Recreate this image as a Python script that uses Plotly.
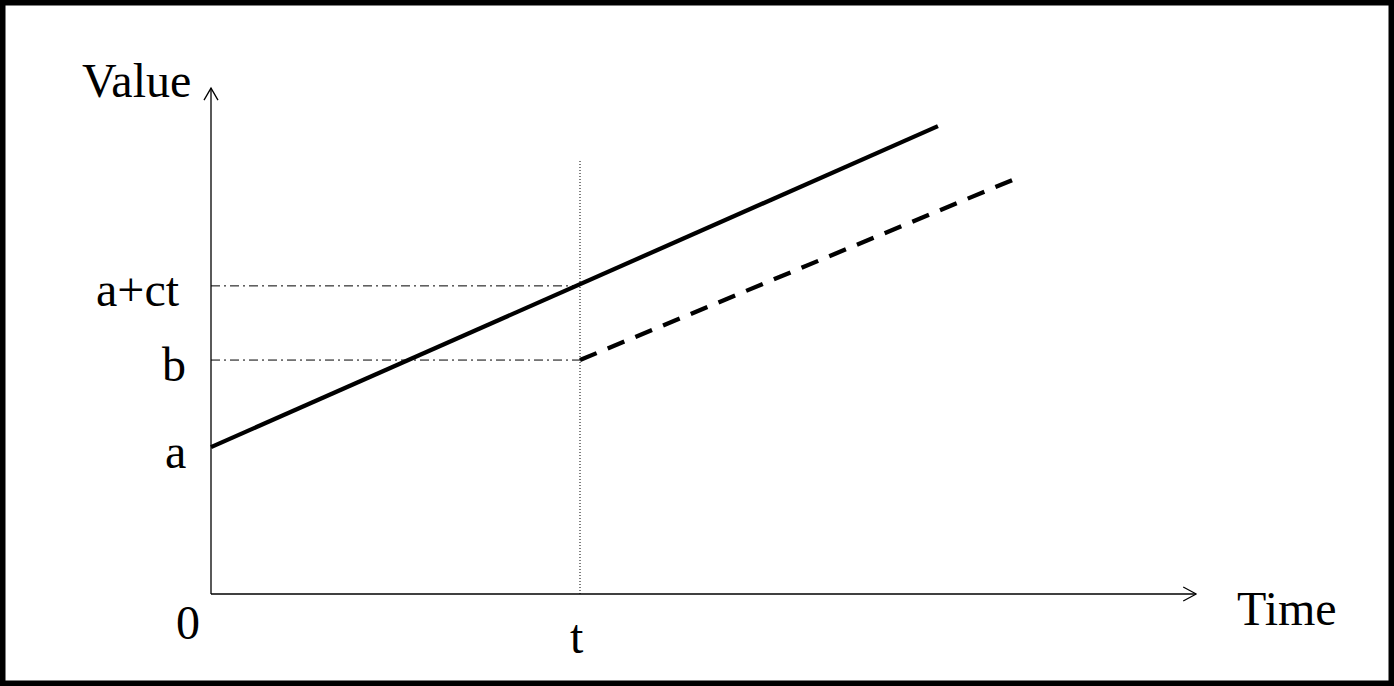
import plotly.graph_objects as go

# ---- data (conceptual units) ----
t_val = 10.0
a_val = 3.98
b_val = 6.34
act_val = 8.35

solid_x = [0.0, 19.7]
solid_y = [3.98, 12.68]

dashed_x = [10.0, 21.84]
dashed_y = [6.34, 11.27]

x_axis_end = 26.7
y_axis_end = 13.71
t_line_top = 11.76

y_tick_vals = [act_val, b_val, a_val]
y_tick_text = ["a+ct", "b", "a"]
y_tick_xshift = [-29, -23, -23]

# ---- layout geometry ----
W, H = 1394, 686
PX = 36.9          # pixels per unit
OX, OY = 211, 594  # origin pixel
x_range = [-OX / PX, (W - OX) / PX]
y_range = [-(H - OY) / PX, OY / PX]

FONT = "Liberation Serif, Times New Roman, serif"
FS = 48

fig = go.Figure()

# axes
fig.add_trace(go.Scatter(x=[0, x_axis_end], y=[0, 0], mode="lines",
                         line=dict(color="black", width=1.3), hoverinfo="skip"))
fig.add_trace(go.Scatter(x=[0, 0], y=[0, y_axis_end], mode="lines",
                         line=dict(color="black", width=1.3), hoverinfo="skip"))
# arrowheads (open V)
al, ah = 13 / PX, 7 / PX
fig.add_trace(go.Scatter(x=[x_axis_end - al, x_axis_end, x_axis_end - al],
                         y=[ah, 0, -ah], mode="lines",
                         line=dict(color="black", width=1.3), hoverinfo="skip"))
al2 = 12 / PX
fig.add_trace(go.Scatter(x=[-ah, 0, ah],
                         y=[y_axis_end - al2, y_axis_end, y_axis_end - al2], mode="lines",
                         line=dict(color="black", width=1.3), hoverinfo="skip"))

# guide lines
fig.add_trace(go.Scatter(x=[t_val, t_val], y=[0, t_line_top], mode="lines",
                         line=dict(color="black", width=1, dash="1px,2px"), hoverinfo="skip"))
fig.add_trace(go.Scatter(x=[0, t_val], y=[act_val, act_val], mode="lines",
                         line=dict(color="black", width=1, dash="9px,4px,2px,4px"), hoverinfo="skip"))
fig.add_trace(go.Scatter(x=[0, t_val], y=[b_val, b_val], mode="lines",
                         line=dict(color="black", width=1, dash="9px,4px,2px,4px"), hoverinfo="skip"))

# main lines
fig.add_trace(go.Scatter(x=solid_x, y=solid_y, mode="lines",
                         line=dict(color="black", width=4.3), hoverinfo="skip"))
fig.add_trace(go.Scatter(x=dashed_x, y=dashed_y, mode="lines",
                         line=dict(color="black", width=4.3, dash="18px,12px"), hoverinfo="skip"))

# labels
ann = []
for val, txt, xs in zip(y_tick_vals, y_tick_text, y_tick_xshift):
    ann.append(dict(x=0, y=val, xref="x", yref="y", text=txt, showarrow=False,
                    xanchor="right", yanchor="middle", xshift=xs, yshift=-4,
                    font=dict(family=FONT, size=FS, color="black")))
ann.append(dict(x=0, y=0, xref="x", yref="y", text="0", showarrow=False,
                xanchor="center", yanchor="middle", xshift=-23, yshift=-28,
                font=dict(family=FONT, size=FS, color="black")))
ann.append(dict(x=t_val, y=0, xref="x", yref="y", text="t", showarrow=False,
                xanchor="center", yanchor="middle", xshift=-3, yshift=-42,
                font=dict(family=FONT, size=FS, color="black")))
ann.append(dict(x=x_axis_end, y=0, xref="x", yref="y", text="Time", showarrow=False,
                xanchor="center", yanchor="middle", xshift=91, yshift=-14,
                font=dict(family=FONT, size=FS, color="black")))
ann.append(dict(x=0, y=y_axis_end, xref="x", yref="y", text="Value", showarrow=False,
                xanchor="center", yanchor="middle", xshift=-75, yshift=8,
                font=dict(family=FONT, size=FS, color="black")))

fig.update_layout(
    width=W, height=H,
    margin=dict(l=0, r=0, t=0, b=0),
    paper_bgcolor="white", plot_bgcolor="white",
    showlegend=False,
    xaxis=dict(range=x_range, visible=False, fixedrange=True),
    yaxis=dict(range=y_range, visible=False, fixedrange=True),
    annotations=ann,
    shapes=[dict(type="rect", xref="paper", yref="paper", x0=0, y0=0, x1=1, y1=1,
                 line=dict(color="black", width=11), fillcolor="rgba(0,0,0,0)")],
)

fig.write_html("out.html", config={"displayModeBar": False},
               post_script="document.body.style.margin='0';")
